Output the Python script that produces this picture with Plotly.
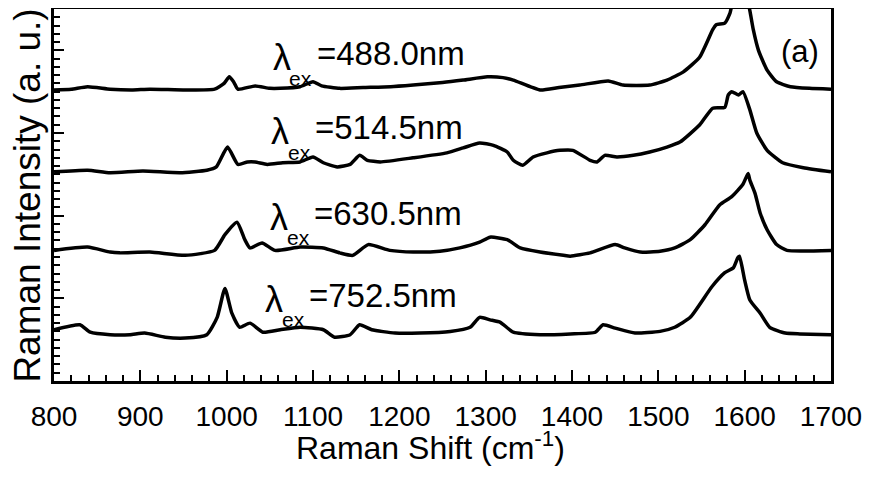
import plotly.graph_objects as go

# Raman shift (cm-1) and intensity (a.u., offset-stacked as in the figure)
x_488 = [800, 820, 839, 865, 890, 911, 952, 986, 997, 1003, 1008, 1013, 1033, 1050, 1062, 1085, 1100, 1110,
         1131, 1158, 1190, 1216, 1250, 1274, 1302, 1320, 1332, 1363, 1385, 1409, 1442, 1459, 1490, 1510, 1529, 1548, 1563,
         1567, 1577, 1583, 1587, 1603, 1606, 1610, 1616, 1626, 1637, 1653, 1675, 1700]
y_488 = [3.52, 3.53, 3.56, 3.53, 3.52, 3.53, 3.52, 3.53, 3.60, 3.68, 3.62, 3.53, 3.57, 3.54, 3.54, 3.56, 3.62, 3.57,
         3.54, 3.55, 3.56, 3.58, 3.61, 3.64, 3.68, 3.67, 3.64, 3.52, 3.55, 3.58, 3.63, 3.58, 3.58, 3.64, 3.74, 3.92, 4.25,
         4.31, 4.33, 4.45, 4.60, 4.60, 4.48, 4.25, 4.00, 3.76, 3.62, 3.56, 3.54, 3.53]

x_514 = [800, 839, 865, 903, 946, 977, 988, 1001, 1013, 1024, 1033, 1047, 1065, 1085, 1100, 1112,
         1128, 1143, 1154, 1163, 1178, 1216, 1255, 1274, 1293, 1309, 1325, 1332, 1343, 1355, 1371,
         1386, 1401, 1421, 1429, 1438, 1452, 1471, 1490, 1510, 1525, 1548, 1563, 1577, 1581, 1585,
         1593, 1598, 1606, 1614, 1626, 1644, 1668, 1700]
y_514 = [2.53, 2.55, 2.52, 2.54, 2.52, 2.55, 2.59, 2.83, 2.62, 2.65, 2.65, 2.62, 2.64, 2.65, 2.71, 2.64,
         2.59, 2.62, 2.73, 2.67, 2.65, 2.70, 2.76, 2.82, 2.88, 2.85, 2.77, 2.67, 2.61, 2.71, 2.76,
         2.79, 2.79, 2.67, 2.65, 2.73, 2.71, 2.73, 2.77, 2.83, 2.89, 3.10, 3.30, 3.31, 3.46, 3.50,
         3.46, 3.50, 3.28, 3.00, 2.79, 2.64, 2.58, 2.53]

x_630 = [800, 839, 865, 876, 911, 952, 986, 998, 1012, 1021, 1027, 1041, 1056, 1085, 1112, 1131,
         1146, 1164, 1189, 1216, 1247, 1270, 1293, 1305, 1325, 1340, 1363, 1390, 1398, 1421, 1450,
         1461, 1479, 1502, 1519, 1537, 1554, 1571, 1585, 1598, 1604, 1606, 1612, 1618, 1626, 1637,
         1649, 1700]
y_630 = [1.58, 1.62, 1.56, 1.55, 1.56, 1.52, 1.58, 1.77, 1.92, 1.71, 1.61, 1.67, 1.58, 1.62, 1.61, 1.55,
         1.52, 1.65, 1.58, 1.56, 1.57, 1.61, 1.68, 1.74, 1.71, 1.61, 1.56, 1.52, 1.51, 1.55, 1.65,
         1.61, 1.56, 1.57, 1.61, 1.71, 1.89, 2.13, 2.23, 2.38, 2.51, 2.43, 2.27, 2.03, 1.83, 1.65,
         1.58, 1.58]

x_752 = [800, 830, 842, 865, 888, 905, 929, 952, 977, 989, 998, 1006, 1015, 1027, 1042, 1062, 1085,
         1112, 1125, 1143, 1154, 1168, 1195, 1224, 1259, 1282, 1293, 1305, 1317, 1332, 1363, 1398,
         1427, 1436, 1450, 1473, 1502, 1519, 1537, 1562, 1577, 1587, 1592, 1594, 1600, 1606, 1618,
         1629, 1647, 1664, 1700]
y_752 = [0.62, 0.68, 0.59, 0.56, 0.56, 0.58, 0.53, 0.52, 0.56, 0.77, 1.12, 0.82, 0.65, 0.70, 0.59, 0.62, 0.65,
         0.62, 0.53, 0.56, 0.68, 0.62, 0.58, 0.58, 0.60, 0.65, 0.77, 0.74, 0.71, 0.59, 0.56, 0.57,
         0.59, 0.68, 0.64, 0.58, 0.60, 0.65, 0.77, 1.14, 1.31, 1.37, 1.49, 1.51, 1.22, 0.98, 0.82,
         0.65, 0.58, 0.57, 0.56]

x_ticks = [800, 900, 1000, 1100, 1200, 1300, 1400, 1500, 1600, 1700]

# label texts and anchor positions (cm-1, a.u.)
label_values = ["=488.0nm", "=514.5nm", "=630.5nm", "=752.5nm"]
label_x = [1102, 1100, 1099, 1093]
label_y = [3.96, 3.07, 2.03, 1.04]

FONT = "Liberation Sans, Arial, Helvetica, sans-serif"

fig = go.Figure()
for xs, ys in [(x_488, y_488), (x_514, y_514), (x_630, y_630), (x_752, y_752)]:
    fig.add_trace(go.Scatter(x=xs, y=ys, mode="lines",
                             line=dict(color="black", width=3.5, shape="spline", smoothing=0.5),
                             showlegend=False, hoverinfo="skip"))

for txt, lx, ly in zip(label_values, label_x, label_y):
    fig.add_annotation(x=lx, y=ly, text=txt, showarrow=False, xanchor="left", yanchor="middle",
                       font=dict(family=FONT, size=33, color="black"))
    fig.add_annotation(x=lx - 38, y=ly - 0.05, text="λ", showarrow=False, xanchor="center",
                       yanchor="middle", font=dict(family=FONT, size=36, color="black"))
    fig.add_annotation(x=lx - 16, y=ly - 0.30, text="ex", showarrow=False, xanchor="center",
                       yanchor="middle", font=dict(family=FONT, size=21, color="black"))

fig.add_annotation(x=1664, y=3.99, text="(a)", showarrow=False, xanchor="center", yanchor="middle",
                   font=dict(family=FONT, size=31, color="black"))

# axis titles
fig.add_annotation(xref="paper", yref="paper", x=0.484, y=-0.176, text="Raman Shift (cm<sup>-1</sup>)",
                   showarrow=False, xanchor="center", yanchor="middle",
                   font=dict(family=FONT, size=32, color="black"))
fig.add_annotation(xref="paper", yref="paper", x=-0.0341, y=0.497, text="Raman Intensity (a. u.)",
                   textangle=-90, showarrow=False, xanchor="center", yanchor="middle",
                   font=dict(family=FONT, size=37, color="black"))

# page body has an 8px margin, so the figure is sized to fill the remaining window
fig.update_layout(
    width=865, height=478,
    margin=dict(l=46, r=42, t=1, b=105),
    paper_bgcolor="white", plot_bgcolor="white",
    font=dict(family=FONT, color="black"),
)
fig.update_xaxes(
    range=[800, 1700], tickvals=x_ticks, ticktext=[str(v) for v in x_ticks],
    ticks="inside", ticklen=11, tickwidth=2, tickcolor="black",
    minor=dict(dtick=20, ticks="inside", ticklen=6, tickwidth=2, tickcolor="black"),
    showline=True, linewidth=3, linecolor="black", mirror=True,
    showgrid=False, zeroline=False, automargin=False,
    ticklabelstandoff=8,
    tickfont=dict(family=FONT, size=28, color="black"),
)
fig.update_yaxes(
    range=[0, 4.5], tick0=0, dtick=1, showticklabels=False,
    ticks="inside", ticklen=10, tickwidth=2, tickcolor="black",
    minor=dict(dtick=0.1, ticks="inside", ticklen=6, tickwidth=2, tickcolor="black"),
    showline=True, linewidth=3, linecolor="black", mirror=True,
    showgrid=False, zeroline=False, automargin=False,
)

fig.write_html("out.html")
